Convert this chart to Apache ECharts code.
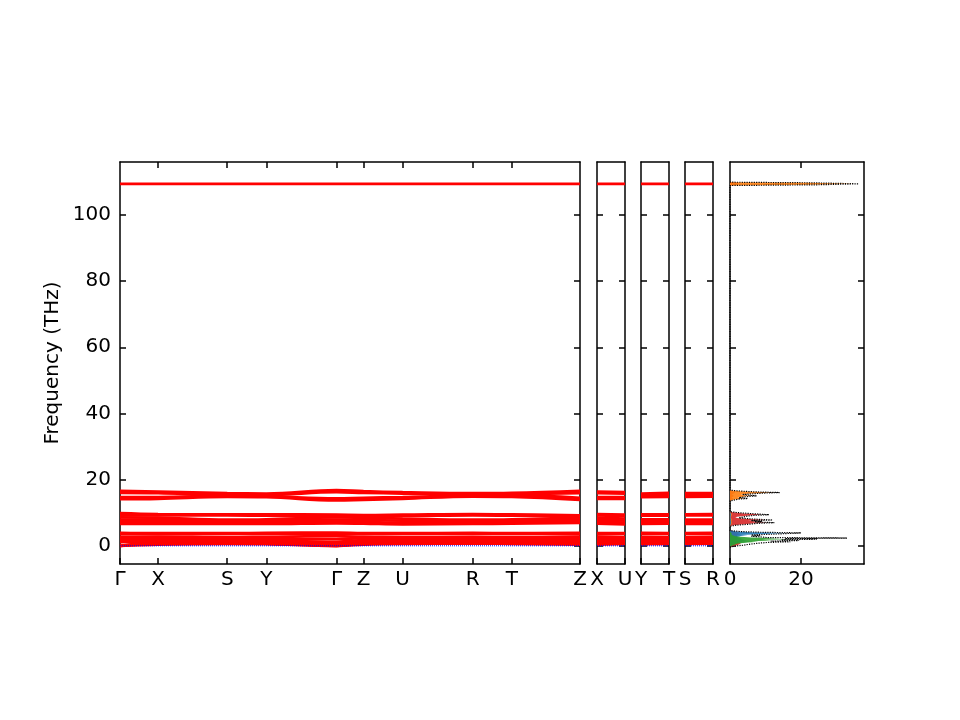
<!DOCTYPE html>
<html>
<head>
<meta charset="UTF-8">
<title>Phonon bands and DOS</title>
<script src="https://cdn.jsdelivr.net/npm/echarts@6.0.0/dist/echarts.min.js"></script>
<style>
  html, body { margin: 0; padding: 0; background: #fff; }
  #main { width: 960px; height: 720px; }
</style>
</head>
<body>
<div id="main"></div>
<script>
// path along high-symmetry points (cumulative distance)
var kDist = [0, 38, 107, 146, 216, 243, 282, 352, 391, 459];
var kLabels = ['Γ', 'X', 'S', 'Y', 'Γ', 'Z', 'U', 'R', 'T', 'Z'];
// short branches X-U, Y-T, S-R : index of start / end point in kDist
var subLen = 28;
var subPaths = [[1, 6], [3, 8], [2, 7]];
var subLabels = [['X', 'U'], ['Y', 'T'], ['S', 'R']];

// band frequencies (THz) at Γ X S Y Γ Z U R T Z
var bandsLow = [
  [3.9, 3.8, 3.8, 3.9, 4.0, 3.8, 3.8, 3.9, 3.8, 3.9],
  [3.5, 3.5, 3.6, 3.6, 3.5, 3.5, 3.6, 3.6, 3.6, 3.5],
  [2.7, 2.8, 2.6, 2.7, 2.9, 2.7, 2.6, 2.7, 2.6, 2.8],
  [2.2, 2.4, 2.3, 2.2, 2.0, 2.3, 2.4, 2.3, 2.4, 2.2],
  [1.6, 1.9, 2.0, 1.8, 1.2, 1.7, 1.9, 2.0, 1.9, 1.6],
  [1.1, 1.4, 1.6, 1.4, 0.7, 1.2, 1.5, 1.6, 1.5, 1.1],
  [0.0, 1.0, 1.3, 1.1, 0.0, 0.9, 1.2, 1.3, 1.2, 0.9],
  [0.0, 0.7, 0.9, 0.7, 0.0, 0.6, 0.9, 1.0, 0.9, 0.6],
  [0.0, 0.4, 0.6, 0.5, 0.0, 0.4, 0.6, 0.7, 0.6, 0.4]
];
var bandsMid = [
  [9.9, 9.6, 9.5, 9.5, 9.4, 9.3, 9.4, 9.6, 9.5, 9.2],
  [9.3, 9.2, 9.2, 9.1, 9.0, 9.0, 9.0, 9.2, 9.1, 8.9],
  [8.6, 8.5, 7.9, 8.0, 8.6, 8.5, 8.2, 7.9, 8.0, 8.6],
  [7.9, 7.9, 7.6, 7.6, 7.9, 7.8, 7.6, 7.5, 7.6, 8.0],
  [7.2, 7.3, 7.1, 7.1, 7.3, 7.2, 7.0, 7.1, 7.2, 7.4],
  [6.6, 6.7, 6.6, 6.6, 6.8, 6.7, 6.5, 6.6, 6.7, 6.9]
];
var bandsHigh = [
  [16.6, 16.4, 15.9, 15.8, 16.8, 16.5, 16.2, 15.9, 16.0, 16.6],
  [16.0, 15.9, 15.4, 15.4, 16.2, 16.0, 15.8, 15.5, 15.6, 15.9],
  [14.7, 14.7, 15.1, 15.0, 14.3, 14.5, 14.7, 15.2, 15.2, 14.5],
  [14.1, 14.2, 14.8, 14.7, 13.7, 13.9, 14.2, 14.9, 14.8, 13.9]
];
var bandTop = [109.4, 109.4, 109.4, 109.4, 109.4, 109.4, 109.4, 109.4, 109.4, 109.4];
var zeroLevel = 0;

var freqTicks = [0, 20, 40, 60, 80, 100];
var dosTicks = [0, 20];

// density of states sampled at dosFreq (four groups: low, mid, high, top)
var dosFreq = [
  -0.4, 0.0, 0.2, 0.4, 0.6, 0.8, 1.0, 1.2, 1.4, 1.6, 1.8, 2.0, 2.2, 2.35, 2.5, 2.7, 2.9, 3.1, 3.3, 3.5, 3.7, 3.9, 4.1, 4.3, 4.6,
  5.9, 6.2, 6.5, 6.8, 7.0, 7.2, 7.4, 7.6, 7.8, 8.0, 8.2, 8.4, 8.6, 8.8, 9.0, 9.2, 9.4, 9.6, 9.8, 10.0, 10.3,
  13.6, 13.9, 14.1, 14.3, 14.5, 14.7, 14.9, 15.1, 15.3, 15.5, 15.7, 15.9, 16.1, 16.3, 16.5, 16.8,
  108.9, 109.1, 109.4, 109.7, 109.9
];
var dosRed = [
  0, 1, 2, 2.5, 3, 3, 2, 3, 2, 2, 2, 2, 2, 2, 2, 2, 2, 2, 2, 3, 2, 3, 2, 1, 0,
  0, 1, 4, 7, 11, 6, 8, 5, 10, 7, 4, 2, 1.5, 2, 4, 6, 9, 7, 4, 2, 0,
  0, 0.3, 0.5, 1, 0.5, 0.5, 1, 1, 1, 0.5, 1, 1, 1.5, 1, 0.5, 0,
  0, 2, 2.5, 2, 0
];
var dosOrange = [
  0, 0.3, 0.5, 0.5, 0.5, 0.5, 0.5, 0.5, 0.5, 0.5, 0.5, 0.5, 0.5, 0.5, 0.5, 0.5, 0.5, 0.5, 0.5, 0.5, 0.5, 0.5, 0.3, 0.2, 0,
  0, 0.2, 0.4, 0.5, 0.6, 0.5, 0.5, 0.4, 0.6, 0.5, 0.4, 0.3, 0.3, 0.3, 0.4, 0.5, 0.6, 0.5, 0.4, 0.2, 0,
  0, 1, 2, 4, 2, 3, 4, 6.5, 4, 3, 5, 8, 13, 6, 3, 0,
  0, 22, 35, 22, 0
];
var dosBlue = [
  0, 0.3, 0.5, 0.8, 1, 1.5, 3, 6, 3, 5, 3, 4, 3, 3, 2, 3, 2, 5, 3, 8, 13, 16, 6, 2, 0,
  0, 0.1, 0.2, 0.3, 0.3, 0.3, 0.3, 0.2, 0.3, 0.3, 0.2, 0.2, 0.2, 0.2, 0.2, 0.3, 0.3, 0.3, 0.2, 0.1, 0,
  0, 0, 0, 0, 0, 0, 0, 0, 0, 0, 0, 0, 0, 0, 0, 0,
  0, 0, 0, 0, 0
];
var dosGreen = [
  0, 0.5, 1, 1.5, 2, 3, 5, 8, 6, 12, 9, 18, 10, 14, 6, 3, 1.5, 1, 0.5, 0.5, 0.5, 0.3, 0.2, 0, 0,
  0, 0, 0, 0, 0, 0, 0, 0, 0, 0, 0, 0, 0, 0, 0, 0, 0, 0, 0, 0, 0,
  0, 0, 0, 0, 0, 0, 0, 0, 0, 0, 0, 0, 0, 0, 0, 0,
  0, 0, 0, 0, 0
];
var dosTotal = [
  0, 2, 4, 5, 6.5, 8, 10.5, 17, 11.5, 19.5, 14.5, 24.5, 15.5, 33, 10.5, 8.5, 6, 8.5, 6, 12, 16, 20, 8.5, 3, 0,
  0, 1.5, 5, 8, 12.5, 7, 9, 6, 12, 8, 5, 2.5, 2, 2.5, 5, 7, 11, 8, 5, 2.5, 0,
  0, 1.5, 2.5, 5, 2.5, 3.5, 5, 7.5, 5, 3.5, 6, 9, 14, 7, 3.5, 0,
  0, 24, 36.3, 24, 0
];

var FONT = 'DejaVu Sans';
var FS = 20;
var frame = { color: '#000', width: 1.5 };
var yMin = -5.5, yMax = 116;

var chart = echarts.init(document.getElementById('main'));

var panels = [
  { left: 120, width: 460, max: kDist[kDist.length - 1],
    ticks: kDist, labels: kLabels, topTicks: kDist.slice(1, -1) },
  { left: 597, width: 28, max: subLen, ticks: [0, subLen], labels: subLabels[0], topTicks: [] },
  { left: 641, width: 28, max: subLen, ticks: [0, subLen], labels: subLabels[1], topTicks: [] },
  { left: 685, width: 28, max: subLen, ticks: [0, subLen], labels: subLabels[2], topTicks: [] },
  { left: 730, width: 134, max: 37.8, ticks: dosTicks, labels: null, topTicks: [20] }
];

var grid = [], xAxis = [], yAxis = [];
panels.forEach(function (p, gi) {
  grid.push({ left: p.left, width: p.width, top: 162, height: 402 });
  xAxis.push({
    gridIndex: gi, type: 'value', min: 0, max: p.max, position: 'bottom',
    axisLine: { show: true, onZero: false, lineStyle: frame },
    axisTick: { show: true, inside: true, length: 6, customValues: p.ticks, lineStyle: frame },
    axisLabel: {
      show: true, customValues: p.ticks, margin: 6, fontSize: FS, color: '#000', fontFamily: FONT,
      showMinLabel: true, showMaxLabel: true,
      formatter: function (v) {
        if (!p.labels) return String(v);
        var i = p.ticks.indexOf(v);
        return i >= 0 ? p.labels[i] : '';
      }
    },
    splitLine: { show: false }
  });
  xAxis.push({
    gridIndex: gi, type: 'value', min: 0, max: p.max, position: 'top',
    axisLine: { show: true, onZero: false, lineStyle: frame },
    axisTick: { show: p.topTicks.length > 0, inside: true, length: 6, customValues: p.topTicks, lineStyle: frame },
    axisLabel: { show: false },
    splitLine: { show: false }
  });
  var left = {
    gridIndex: gi, type: 'value', min: yMin, max: yMax, position: 'left',
    axisLine: { show: true, onZero: false, lineStyle: frame },
    axisTick: { show: true, inside: true, length: 6, customValues: freqTicks, lineStyle: frame },
    axisLabel: { show: gi === 0, customValues: freqTicks, margin: 9, fontSize: FS, color: '#000', fontFamily: FONT },
    splitLine: { show: false }
  };
  if (gi === 0) {
    left.name = 'Frequency (THz)';
    left.nameLocation = 'middle';
    left.nameGap = 57;
    left.nameTextStyle = { fontSize: FS, color: '#000', fontFamily: FONT };
  }
  yAxis.push(left);
  yAxis.push({
    gridIndex: gi, type: 'value', min: yMin, max: yMax, position: 'right',
    axisLine: { show: true, onZero: false, lineStyle: frame },
    axisTick: { show: true, inside: true, length: 6, customValues: freqTicks, lineStyle: frame },
    axisLabel: { show: false },
    splitLine: { show: false }
  });
});

var series = [];
var allBands = bandsLow.concat(bandsMid, bandsHigh, [bandTop]);

function bandLine(gi, data, smooth) {
  return {
    type: 'line', xAxisIndex: gi * 2, yAxisIndex: gi * 2, data: data,
    smooth: smooth, symbol: 'none', silent: true,
    lineStyle: { color: '#ff0000', width: 2.8 }
  };
}
function zeroLine(gi, max) {
  return {
    type: 'line', xAxisIndex: gi * 2, yAxisIndex: gi * 2, z: 3,
    data: [[0, zeroLevel], [max, zeroLevel]], symbol: 'none', silent: true,
    lineStyle: { color: '#0000ff', width: 1, type: 'dotted' }
  };
}

allBands.forEach(function (b) {
  series.push(bandLine(0, kDist.map(function (d, i) { return [d, b[i]]; }), 0.4));
  subPaths.forEach(function (sp, si) {
    series.push(bandLine(si + 1, [[0, b[sp[0]]], [subLen, b[sp[1]]]], false));
  });
});
series.push(zeroLine(0, kDist[kDist.length - 1]));
for (var s = 1; s <= 3; s++) series.push(zeroLine(s, subLen));

function dosFill(vals, color) {
  return {
    type: 'custom', xAxisIndex: 8, yAxisIndex: 8, data: [[0, 0]], silent: true, clip: true,
    renderItem: function (params, api) {
      var pts = dosFreq.map(function (f, i) { return api.coord([vals[i], f]); });
      pts.push(api.coord([0, dosFreq[dosFreq.length - 1]]));
      pts.push(api.coord([0, dosFreq[0]]));
      return { type: 'polygon', shape: { points: pts }, style: { fill: color, opacity: 0.9 } };
    }
  };
}
series.push(dosFill(dosRed, '#d62728'));
series.push(dosFill(dosOrange, '#ff7f0e'));
series.push(dosFill(dosBlue, '#1f77b4'));
series.push(dosFill(dosGreen, '#2ca02c'));
series.push({
  type: 'line', xAxisIndex: 8, yAxisIndex: 8, silent: true, symbol: 'none', z: 4,
  data: dosFreq.map(function (f, i) { return [dosTotal[i], f]; }),
  lineStyle: { color: '#000', width: 1.2, type: 'dotted' }
});

chart.setOption({
  animation: false,
  backgroundColor: '#fff',
  grid: grid,
  xAxis: xAxis,
  yAxis: yAxis,
  series: series
});
</script>
</body>
</html>
